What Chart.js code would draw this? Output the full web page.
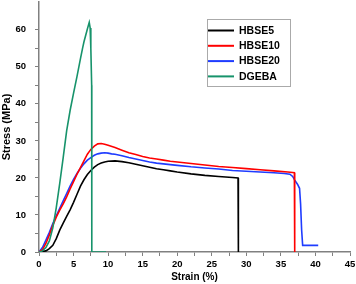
<!DOCTYPE html>
<html>
<head>
<meta charset="utf-8">
<script src="https://cdn.jsdelivr.net/npm/chart.js@4.4.0/dist/chart.umd.min.js"></script>
<style>
  html, body { margin: 0; padding: 0; background: #fff; }
  #wrap { width: 356px; height: 284px; }
</style>
</head>
<body>
<div id="wrap"><canvas id="myChart" width="356" height="284"></canvas></div>
<script>
// strain (%) / stress (MPa)
var hbse5Strain = [0, 1, 1.5, 2, 2.5, 3, 3.5, 4, 4.5, 5, 5.5, 6, 6.5, 7, 7.5, 8, 8.5, 9, 9.5, 10, 11, 12, 13, 14, 15, 16, 17, 18, 19, 20, 22, 24, 26, 28, 28.8, 28.85];
var hbse5Stress = [0, 0.3, 0.9, 1.8, 3.6, 5.9, 7.8, 9.6, 11.4, 13.4, 15.6, 17.8, 19.5, 20.9, 22.0, 22.9, 23.6, 24.0, 24.3, 24.5, 24.6, 24.4, 24.1, 23.7, 23.3, 22.9, 22.5, 22.2, 21.9, 21.6, 21.1, 20.7, 20.4, 20.1, 20.0, 0];

var hbse10Strain = [0, 0.5, 1, 1.5, 2, 2.5, 3, 3.5, 4, 4.5, 5, 5.5, 6, 6.5, 7, 7.5, 8, 8.5, 9, 9.5, 10, 11, 12, 13, 14, 15, 16, 17, 18, 19, 20, 22, 24, 26, 28, 30, 32, 34, 36, 36.95, 37.0];
var hbse10Stress = [0, 0.6, 2.3, 4.6, 7.2, 9.4, 11.3, 13.0, 14.9, 17.0, 19.0, 21.0, 22.8, 24.6, 26.4, 27.7, 28.6, 29.2, 29.3, 29.1, 28.8, 28.2, 27.5, 26.8, 26.3, 25.8, 25.4, 25.1, 24.8, 24.5, 24.3, 23.9, 23.5, 23.1, 22.8, 22.5, 22.2, 21.9, 21.6, 21.4, 0];

var hbse20Strain = [0, 0.5, 1, 1.5, 2, 2.5, 3, 3.5, 4, 4.5, 5, 5.5, 6, 6.5, 7, 7.5, 8, 8.5, 9, 9.5, 10, 10.5, 11, 12, 13, 14, 15, 16, 17, 18, 19, 20, 22, 24, 26, 28, 30, 32, 34, 35.5, 36.3, 36.7, 37.0, 37.4, 37.7, 37.85, 38.0, 38.15, 40.4];
var hbse20Stress = [0, 1.2, 3.2, 5.3, 7.7, 9.8, 11.8, 13.8, 15.8, 17.8, 19.6, 21.2, 22.6, 23.8, 24.8, 25.5, 26.1, 26.5, 26.7, 26.8, 26.7, 26.5, 26.4, 26.0, 25.5, 25.1, 24.7, 24.3, 24.0, 23.8, 23.6, 23.4, 23.0, 22.7, 22.4, 22.0, 21.8, 21.6, 21.4, 21.2, 21.0, 20.4, 19.4, 18.3, 17.2, 13.0, 6.0, 1.8, 1.8];

var dgebaStrain = [0, 0.5, 1, 1.5, 2, 2.5, 3, 3.5, 4, 4.5, 5, 5.5, 6, 6.3, 6.5, 7, 7.27, 7.4, 7.5, 7.62, 7.64, 9.7];
var dgebaStress = [0, 0.3, 1.2, 3.0, 6.5, 12.0, 18.5, 25.5, 32.7, 38.2, 42.9, 47.4, 52.2, 55.0, 56.7, 60.2, 62.0, 60.5, 55.0, 45.0, 0, 0];

var seriesNames = ["HBSE5", "HBSE10", "HBSE20", "DGEBA"];
var seriesColors = ["#000000", "#ff0000", "#1f3cff", "#17936b"];
var drawOrder = [2, 1, 3, 0]; // lower = drawn on top

function pts(xs, ys) {
    return xs.map(function (x, i) { return { x: x, y: ys[i] }; });
}

var allData = [
    pts(hbse5Strain, hbse5Stress),
    pts(hbse10Strain, hbse10Stress),
    pts(hbse20Strain, hbse20Stress),
    pts(dgebaStrain, dgebaStress)
];

// legend box drawn inside the plot, top right
var boxLegend = {
    id: 'boxLegend',
    afterDraw: function (chart) {
        var ctx = chart.ctx;
        var x0 = 207, y0 = 19, w = 83, h = 67;
        ctx.save();
        ctx.fillStyle = '#fff';
        ctx.fillRect(x0, y0, w, h);
        ctx.strokeStyle = '#aaaaaa';
        ctx.lineWidth = 1;
        ctx.strokeRect(x0 + 0.5, y0 + 0.5, w, h);
        ctx.font = 'bold 10.5px "Liberation Sans", Arial, sans-serif';
        ctx.textBaseline = 'middle';
        chart.data.datasets.forEach(function (ds, i) {
            var yy = y0 + 11.5 + i * 15.3;
            ctx.strokeStyle = ds.borderColor;
            ctx.lineWidth = 2;
            ctx.beginPath();
            ctx.moveTo(x0 + 1, yy);
            ctx.lineTo(x0 + 27, yy);
            ctx.stroke();
            ctx.fillStyle = '#000';
            ctx.fillText(ds.label, x0 + 32, yy + 0.5);
        });
        ctx.restore();
    }
};

var fontFam = '"Liberation Sans", Arial, sans-serif';
var tickFont = { family: fontFam, size: 9.5, weight: 'bold' };

var ctx = document.getElementById("myChart").getContext('2d');
var myChart = new Chart(ctx, {
    type: 'scatter',
    data: {
        datasets: seriesNames.map(function (name, i) {
            return {
                label: name,
                data: allData[i],
                showLine: true,
                order: drawOrder[i],
                borderColor: seriesColors[i],
                backgroundColor: seriesColors[i],
                borderWidth: 1.6,
                pointRadius: 0,
                tension: 0
            };
        })
    },
    options: {
        responsive: false,
        animation: false,
        layout: { padding: { top: 2, right: 0, left: 0, bottom: 0 } },
        plugins: {
            legend: { display: false },
            tooltip: { enabled: false }
        },
        scales: {
            x: {
                type: 'linear',
                min: 0,
                max: 45,
                afterFit: function (scale) {
                    scale.height = 32;
                    scale.paddingRight = 6;
                    scale.paddingLeft = 0;
                },
                border: { color: '#808080', width: 1.5 },
                grid: { drawOnChartArea: false, color: '#808080', tickLength: 4 },
                ticks: {
                    stepSize: 2.5,
                    autoSkip: false,
                    maxRotation: 0,
                    padding: 3,
                    color: '#000',
                    font: tickFont,
                    callback: function (v) { return v % 5 === 0 ? v : ''; }
                },
                title: { display: true, text: 'Strain (%)', color: '#000', font: { family: fontFam, size: 10, weight: 'bold' }, padding: { top: 0, bottom: 1 } }
            },
            y: {
                type: 'linear',
                min: 0,
                max: 67.5,
                afterFit: function (scale) {
                    scale.width = 39;
                    scale.paddingTop = 0;
                    scale.paddingBottom = 0;
                },
                border: { color: '#808080', width: 1.5 },
                grid: { drawOnChartArea: false, color: '#808080', tickLength: 4 },
                afterBuildTicks: function (scale) {
                    scale.ticks = scale.ticks.filter(function (t) { return t.value % 5 === 0; });
                },
                ticks: {
                    stepSize: 5,
                    autoSkip: false,
                    padding: 9,
                    color: '#000',
                    font: tickFont,
                    callback: function (v) { return v % 10 === 0 ? v : ''; }
                },
                title: { display: true, text: 'Stress (MPa)', color: '#000', font: { family: fontFam, size: 11, weight: 'bold' }, padding: { top: 0, bottom: 2 } }
            }
        }
    },
    plugins: [boxLegend]
});
</script>
</body>
</html>
